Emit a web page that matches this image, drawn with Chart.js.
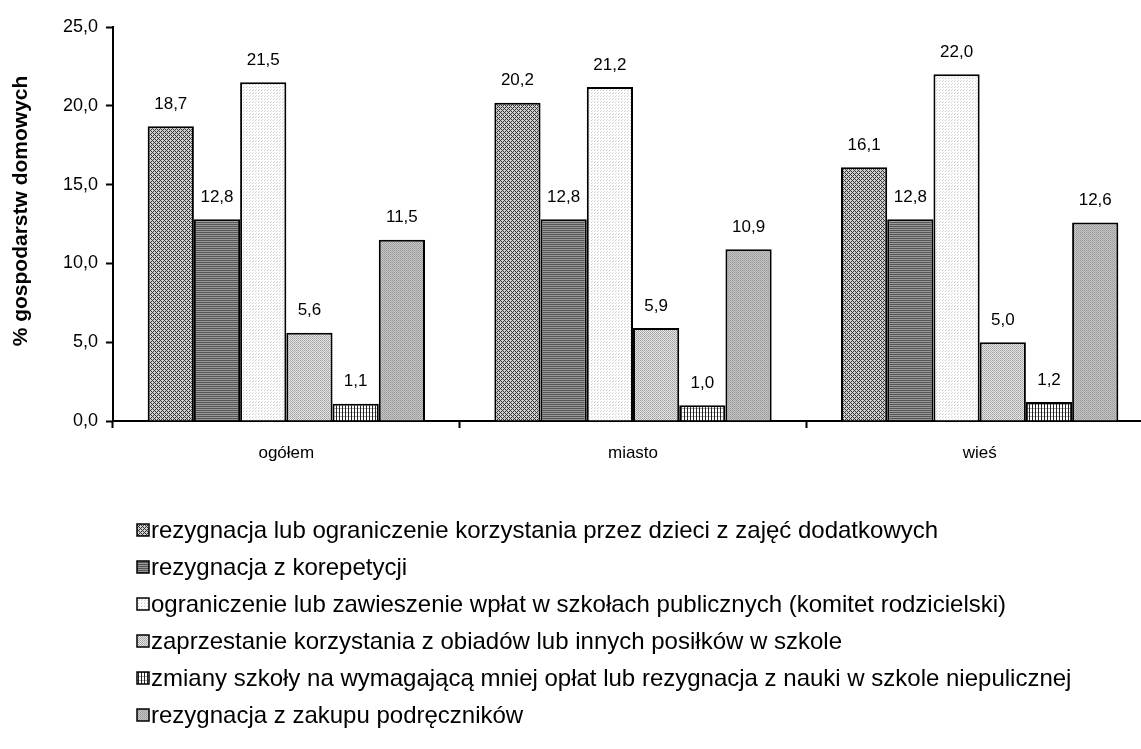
<!DOCTYPE html>
<html>
<head>
<meta charset="utf-8">
<script src="https://cdn.jsdelivr.net/npm/chart.js@4.4.1/dist/chart.umd.min.js"></script>
<style>
  html, body { margin: 0; padding: 0; background: #fff; overflow: hidden; }
  #wrap { width: 1141px; height: 749px; overflow: hidden; }
</style>
</head>
<body>
<div id="wrap"><canvas id="wykres" width="1153" height="749"></canvas></div>
<script>
// Dane
const kategorie = ["ogółem", "miasto", "wieś"];
const zajeciaDodatkowe = [18.7, 20.2, 16.1];
const korepetycje = [12.8, 12.8, 12.8];
const komitetRodzicielski = [21.5, 21.2, 22.0];
const obiady = [5.6, 5.9, 5.0];
const zmianaSzkoly = [1.1, 1.0, 1.2];
const podreczniki = [11.5, 10.9, 12.6];

const etykiety = [
  "rezygnacja lub ograniczenie korzystania przez dzieci z zajęć dodatkowych",
  "rezygnacja z korepetycji",
  "ograniczenie lub zawieszenie wpłat w szkołach publicznych (komitet rodzicielski)",
  "zaprzestanie korzystania z obiadów lub innych posiłków w szkole",
  "zmiany szkoły na wymagającą mniej opłat lub rezygnacja z nauki w szkole niepulicznej",
  "rezygnacja z zakupu podręczników"
];
const tytulOsiY = "% gospodarstw domowych";
const FONT = "'Liberation Sans', Arial, sans-serif";

// Wzory (kafelki) do wypełnienia słupków
function wzor(w, h, rysuj) {
  const c = document.createElement("canvas");
  c.width = w; c.height = h;
  const g = c.getContext("2d");
  rysuj(g);
  return g.createPattern(c, "repeat");
}
function px(g, x, y, kolor) { g.fillStyle = kolor; g.fillRect(x, y, 1, 1); }

const wzory = [
  // drobna ukośna kratka
  wzor(4, 4, g => {
    g.fillStyle = "#d0d0d0"; g.fillRect(0, 0, 4, 4);
    for (let y = 0; y < 4; y++) for (let x = 0; x < 4; x++) {
      if ((x + y) % 4 === 0 || (x - y + 4) % 4 === 0) px(g, x, y, "#333");
    }
  }),
  // poziome paski
  wzor(2, 2, g => {
    g.fillStyle = "#555"; g.fillRect(0, 0, 2, 1);
    g.fillStyle = "#999"; g.fillRect(0, 1, 2, 1);
  }),
  // jasne kropki
  wzor(3, 3, g => {
    g.fillStyle = "#fff"; g.fillRect(0, 0, 3, 3);
    px(g, 0, 0, "#ccc"); px(g, 1, 2, "#ddd");
  }),
  // szare kropki
  wzor(2, 2, g => {
    g.fillStyle = "#e6e6e6"; g.fillRect(0, 0, 2, 2);
    px(g, 0, 0, "#a0a0a0"); px(g, 1, 1, "#b0b0b0");
  }),
  // pionowe kreski
  wzor(3, 4, g => {
    g.fillStyle = "#fff"; g.fillRect(0, 0, 3, 4);
    g.fillStyle = "#aaa"; g.fillRect(0, 0, 3, 1);
    g.fillStyle = "#222"; g.fillRect(0, 0, 1, 4);
  }),
  // ciemniejsze kropki
  wzor(2, 2, g => {
    g.fillStyle = "#c4c4c4"; g.fillRect(0, 0, 2, 2);
    px(g, 0, 0, "#9a9a9a"); px(g, 1, 1, "#a8a8a8");
  })
];

const serie = [zajeciaDodatkowe, korepetycje, komitetRodzicielski, obiady, zmianaSzkoly, podreczniki];

// Etykiety wartości nad słupkami
const etykietyWartosci = {
  id: "etykietyWartosci",
  afterDatasetsDraw(chart) {
    const ctx = chart.ctx;
    ctx.save();
    ctx.font = "17px " + FONT;
    ctx.fillStyle = "#000";
    ctx.textAlign = "center";
    ctx.textBaseline = "middle";
    chart.data.datasets.forEach((ds, i) => {
      chart.getDatasetMeta(i).data.forEach((el, j) => {
        ctx.fillText(ds.data[j].toFixed(1).replace(".", ","), el.x, el.y - 22);
      });
    });
    ctx.restore();
  }
};

// Tytuł osi Y (pionowo, trochę powyżej środka osi jak w oryginale)
const tytulY = {
  id: "tytulY",
  afterDraw(chart) {
    const ctx = chart.ctx;
    ctx.save();
    ctx.translate(21, 211);
    ctx.rotate(-Math.PI / 2);
    ctx.font = "bold 21px " + FONT;
    ctx.fillStyle = "#000";
    ctx.textAlign = "center";
    ctx.textBaseline = "middle";
    ctx.fillText(tytulOsiY, 0, 0);
    ctx.restore();
  }
};

// Legenda w kolumnie pod wykresem
const legendaKolumna = {
  id: "legendaKolumna",
  afterDraw(chart) {
    const ctx = chart.ctx;
    ctx.save();
    ctx.font = "24px " + FONT;
    ctx.textBaseline = "middle";
    chart.data.datasets.forEach((ds, i) => {
      const y = 530 + i * 37;
      ctx.fillStyle = ds.backgroundColor;
      ctx.fillRect(137, y - 6, 12, 12);
      ctx.strokeStyle = "#000";
      ctx.lineWidth = 1.5;
      ctx.strokeRect(137, y - 6, 12, 12);
      ctx.fillStyle = "#000";
      ctx.fillText(ds.label, 151, y + 1);
    });
    ctx.restore();
  }
};

new Chart(document.getElementById("wykres"), {
  type: "bar",
  data: {
    labels: kategorie,
    datasets: serie.map((dane, i) => ({
      label: etykiety[i],
      data: dane,
      backgroundColor: wzory[i],
      borderColor: "#000",
      borderWidth: 2,
      categoryPercentage: 0.8,
      barPercentage: 1.0
    }))
  },
  options: {
    responsive: false,
    animation: false,
    layout: { padding: { top: 27, right: 0, bottom: 288, left: 0 } },
    plugins: {
      legend: { display: false },
      tooltip: { enabled: false }
    },
    scales: {
      x: {
        grid: {
          offset: true,
          drawOnChartArea: false,
          drawTicks: true,
          tickLength: 7,
          tickColor: "#000",
          tickWidth: 2
        },
        border: { display: true, color: "#000", width: 2 },
        ticks: { color: "#000", font: { family: FONT, size: 17 }, padding: 15 },
        afterFit(scale) { scale.height = 40; }
      },
      y: {
        min: 0,
        max: 25,
        ticks: {
          stepSize: 5,
          color: "#000",
          padding: 8,
          font: { family: FONT, size: 18 },
          callback: v => v.toFixed(1).replace(".", ",")
        },
        grid: {
          drawOnChartArea: false,
          drawTicks: true,
          tickLength: 7,
          tickColor: "#000",
          tickWidth: 2
        },
        border: { display: true, color: "#000", width: 2 },
        afterFit(scale) { scale.width = 113; }
      }
    }
  },
  plugins: [etykietyWartosci, tytulY, legendaKolumna]
});
</script>
</body>
</html>
